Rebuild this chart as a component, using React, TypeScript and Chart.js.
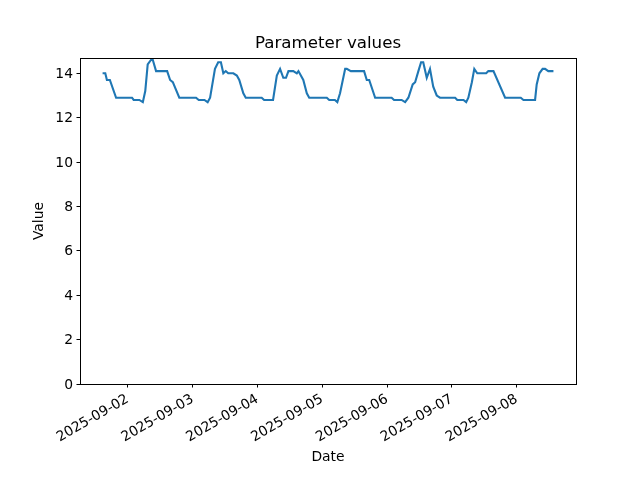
import { useEffect, useRef } from "react";
import { Chart, registerables } from "chart.js";

Chart.register(...registerables);

// hours since 2025-09-01 00:00
const hours = [
  14.7, 15.7, 16.3, 17.4, 19.7, 25.6, 26.2, 28.3, 29.6, 30.5, 31.4, 32.6, 33.3, 34.5, 38.6, 39.7, 40.7, 43.1,
  49.3, 50.3, 52.4, 53.6, 54.5, 56.3, 57.5, 58.5, 59.4, 60.3, 61.2, 63.1, 64.4, 65.3, 66.8, 67.7,
  73.6, 74.5, 76.7, 77.8, 79.2, 80.4, 81.6, 82.6, 83.5, 85.3, 86.6, 87.2, 89.0, 90.3, 91.2,
  97.7, 98.6, 100.7, 101.6, 102.6, 104.5, 105.1, 106.6, 111.5, 112.5, 113.4, 115.6,
  121.7, 122.6, 125.4, 126.7, 127.9, 129.5, 130.4, 131.6, 132.6, 133.4, 134.7, 135.9, 137.1, 138.4, 139.6,
  145.2, 146.0, 148.3, 149.3, 150.1, 151.4, 152.3, 153.4, 156.7, 157.5, 159.4, 163.7,
  169.5, 170.5, 174.8, 175.4, 176.4, 177.6, 178.5, 179.7, 181.6,
];
const values = [
  14.0, 14.0, 13.7, 13.7, 12.9, 12.9, 12.8, 12.8, 12.7, 13.2, 14.4, 14.6, 14.6, 14.1, 14.1, 13.7, 13.6, 12.9,
  12.9, 12.8, 12.8, 12.7, 12.9, 14.2, 14.5, 14.5, 14.0, 14.1, 14.0, 14.0, 13.9, 13.7, 13.1, 12.9,
  12.9, 12.8, 12.8, 12.8, 13.9, 14.2, 13.8, 13.8, 14.1, 14.1, 14.0, 14.1, 13.7, 13.1, 12.9,
  12.9, 12.8, 12.8, 12.7, 13.1, 14.2, 14.2, 14.1, 14.1, 13.7, 13.7, 12.9,
  12.9, 12.8, 12.8, 12.7, 12.9, 13.5, 13.6, 14.1, 14.5, 14.5, 13.8, 14.2, 13.4, 13.0, 12.9,
  12.9, 12.8, 12.8, 12.7, 12.9, 13.6, 14.2, 14.0, 14.0, 14.1, 14.1, 12.9,
  12.9, 12.8, 12.8, 13.5, 14.0, 14.2, 14.2, 14.1, 14.1,
];

const dayTicks = [24, 48, 72, 96, 120, 144, 168];
const dayLabels = ["2025-09-02", "2025-09-03", "2025-09-04", "2025-09-05", "2025-09-06", "2025-09-07", "2025-09-08"];
const yTicks = [0, 2, 4, 6, 8, 10, 12, 14];

const FONT = "'DejaVu Sans', sans-serif";

const frame = {
  id: "frame",
  afterDraw(chart: Chart) {
    const { ctx, chartArea: a } = chart;
    ctx.save();
    ctx.strokeStyle = "#000";
    ctx.lineWidth = 1;
    ctx.strokeRect(Math.round(a.left) + 0.5, Math.round(a.top) + 0.5, Math.round(a.right - a.left), Math.round(a.bottom - a.top));
    ctx.restore();
  },
};

export default function App() {
  const canvasRef = useRef<HTMLCanvasElement>(null);
  const chartRef = useRef<Chart | null>(null);

  useEffect(() => {
    if (!canvasRef.current) return;
    chartRef.current?.destroy();
    chartRef.current = new Chart(canvasRef.current, {
      type: "line",
      data: {
        datasets: [
          {
            label: "Value",
            data: hours.map((h, i) => ({ x: h, y: values[i] })),
            borderColor: "#1f77b4",
            borderWidth: 2.1,
            pointRadius: 0,
            tension: 0,
            fill: false,
          },
        ],
      },
      options: {
        responsive: true,
        maintainAspectRatio: false,
        animation: false,
        layout: { padding: { top: 34, right: 64, bottom: 0, left: 0 } },
        plugins: {
          legend: { display: false },
          tooltip: { enabled: false },
          title: {
            display: true,
            text: "Parameter values",
            fullSize: false,
            color: "#000",
            font: { family: FONT, size: 16.67, weight: "normal", lineHeight: 1.2 },
            padding: { top: 0, bottom: 4 },
          },
        },
        scales: {
          x: {
            type: "linear",
            min: 6.34,
            max: 189.95,
            afterFit: (s: any) => {
              s.height = 96;
            },
            afterBuildTicks: (s: any) => {
              s.ticks = dayTicks.map((v) => ({ value: v }));
            },
            grid: { drawOnChartArea: false, drawTicks: true, tickLength: 3.5, color: "#000" },
            border: { display: false },
            ticks: {
              color: "#000",
              font: { family: FONT, size: 13.89 },
              padding: 3.5,
              minRotation: 30,
              maxRotation: 30,
              autoSkip: false,
              callback: (_v: any, i: number) => dayLabels[i],
            },
            title: {
              display: true,
              text: "Date",
              color: "#000",
              font: { family: FONT, size: 13.89, lineHeight: 1.2 },
              padding: { top: 0, bottom: 14.7 },
            },
          },
          y: {
            min: 0,
            max: 14.69,
            afterFit: (s: any) => {
              s.width = 80;
            },
            afterBuildTicks: (s: any) => {
              s.ticks = yTicks.map((v) => ({ value: v }));
            },
            grid: { drawOnChartArea: false, drawTicks: true, tickLength: 3.5, color: "#000" },
            border: { display: false },
            ticks: {
              color: "#000",
              font: { family: FONT, size: 13.89 },
              padding: 3.5,
              labelOffset: 1,
              callback: (v: any) => String(v),
            },
            title: {
              display: true,
              text: "Value",
              color: "#000",
              font: { family: FONT, size: 13.89, lineHeight: 1.2 },
              padding: { top: 30.6, bottom: 0 },
            },
          },
        },
      },
      plugins: [frame],
    });
    return () => chartRef.current?.destroy();
  }, []);

  return (
    <div style={{ position: "absolute", left: 0, top: 0, width: 640, height: 480, background: "#fff" }}>
      <canvas ref={canvasRef} />
    </div>
  );
}
